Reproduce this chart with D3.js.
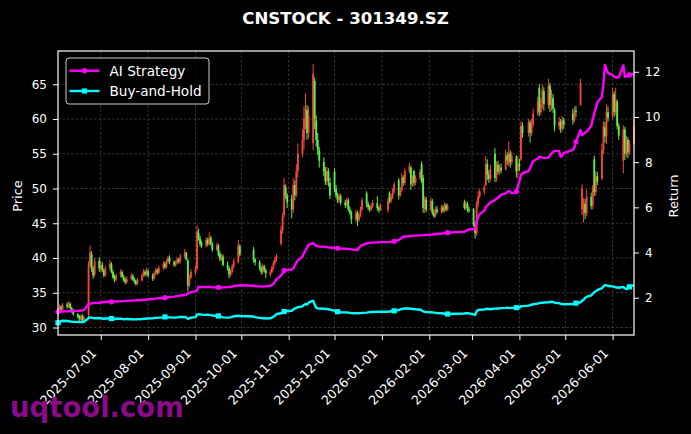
<!DOCTYPE html>
<html>
<head>
<meta charset="utf-8">
<script src="https://cdn.jsdelivr.net/npm/d3@7/dist/d3.min.js"></script>
<style>
    html, body { margin: 0; padding: 0; background: #000; }
    svg { display: block; font-family: "DejaVu Sans", sans-serif; }
</style>
</head>
<body>
<div id="chart"></div>
<script>
// Trading calendar: weekdays from first to last day, minus exchange holidays
var firstDay = "2025-06-03";
var lastDay = "2026-06-15";
var holidays = [
    "2025-10-01", "2025-10-02", "2025-10-03", "2025-10-06", "2025-10-07", "2025-10-08",
    "2026-01-01", "2026-01-02",
    "2026-02-16", "2026-02-17", "2026-02-18", "2026-02-19", "2026-02-20", "2026-02-23",
    "2026-04-06", "2026-05-01", "2026-05-04", "2026-05-05"
];

// Daily prices (one line per month, Jun 2025 .. Jun 2026)
var open = [
    32.0,32.4,33.0,32.6,33.3,33.0,33.4,32.8,32.4,31.9,31.6,31.1,31.7,31.0,31.8,39.0,40.5,38.5,37.6,39.6,
    38.4,39.0,38.2,37.6,38.5,39.1,38.0,37.3,36.9,37.5,38.0,37.3,36.9,36.5,37.0,37.4,36.9,36.7,36.3,36.8,37.5,38.0,37.6,
    38.1,37.5,37.1,37.8,38.3,37.9,38.6,39.2,38.7,39.5,40.0,39.4,39.0,39.3,39.8,39.5,40.2,40.7,39.6,36.1,37.2,
    37.9,38.5,43.6,42.8,42.1,41.8,42.6,42.0,42.9,42.0,41.2,41.8,40.6,39.8,40.2,39.0,38.5,37.6,38.0,38.8,39.4,41.7,
    41.2,39.8,39.4,38.6,38.0,38.8,38.2,37.6,38.0,38.6,39.3,39.8,42.0,44.0,46.2,50.2,49.0,
    48.5,47.0,50.5,49.2,52.5,55.0,57.0,60.0,61.3,58.0,56.5,65.5,59.8,57.0,55.5,53.8,52.5,51.0,52.5,50.8,
    52.4,50.0,49.0,48.3,48.9,48.0,47.6,48.3,47.0,46.5,45.6,46.5,45.5,46.2,47.0,49.3,47.8,47.3,47.0,47.5,47.9,47.2,46.9,
    46.9,49.3,48.2,48.8,49.6,51.2,49.0,49.8,51.6,50.8,52.5,53.0,50.6,52.5,50.8,51.5,53.5,51.5,47.0,48.4,
    47.0,48.2,46.5,46.0,47.0,46.6,47.3,46.8,47.6,47.0,48.0,47.2,47.8,47.0,
    47.0,44.8,43.5,47.8,48.9,49.6,50.5,53.5,52.0,51.4,55.0,51.5,53.4,52.4,53.0,52.8,54.8,53.6,55.0,53.8,54.5,52.6,
    53.6,54.2,59.0,58.0,59.5,58.0,59.2,60.8,64.5,61.0,62.2,64.0,62.0,64.8,62.0,63.0,61.3,59.0,59.6,58.6,59.8,
    60.8,59.8,61.2,62.0,47.0,46.2,47.8,46.4,48.8,47.5,54.2,49.5,51.8,51.4,55.5,58.8,57.5,61.0,
    60.5,63.6,61.0,62.5,59.0,54.0,58.5,55.0,57.0,55.2,56.5
];
var high = [
    32.8,33.3,33.2,33.5,33.6,33.8,33.6,33.0,32.6,32.1,31.8,31.9,31.9,31.7,39.5,41.8,41.0,38.9,40.0,40.1,
    39.6,39.4,38.5,38.9,39.7,39.4,38.3,37.6,37.8,38.4,38.2,37.6,37.2,37.4,37.8,37.7,37.2,36.9,37.1,37.8,38.4,38.3,38.6,
    38.4,37.8,38.1,38.6,38.5,38.9,39.5,39.5,39.8,40.3,40.4,39.7,39.6,40.1,40.0,40.6,41.3,40.9,39.9,37.6,38.4,
    38.9,44.7,44.2,43.2,42.5,43.0,42.9,43.7,43.2,42.3,42.2,42.0,41.0,40.6,40.5,39.5,38.8,38.4,39.1,39.9,42.6,42.0,
    41.6,40.0,39.7,38.9,39.2,39.0,38.5,38.3,38.9,39.6,40.2,40.6,44.6,46.5,51.5,50.6,49.3,
    49.1,51.5,51.2,53.5,56.5,58.5,61.9,63.7,62.0,61.8,67.9,66.0,60.5,58.0,56.0,54.5,53.1,53.1,52.9,51.5,
    52.9,50.5,49.4,49.3,49.2,48.4,48.7,48.6,47.4,46.8,47.0,46.8,46.6,47.4,48.7,49.6,48.1,47.6,47.9,48.4,48.9,47.5,47.9,
    48.7,49.6,49.2,50.0,51.0,51.5,50.2,52.2,51.9,52.9,53.7,53.3,51.9,52.7,51.9,52.8,53.9,52.0,48.9,48.8,
    48.7,48.5,47.0,47.4,47.5,47.7,47.6,48.0,47.9,47.8,48.4,48.2,48.1,47.4,
    47.2,45.2,48.2,49.6,50.0,50.5,54.7,54.2,52.6,53.4,55.8,53.9,54.0,53.5,53.6,55.6,55.2,56.8,55.5,55.3,54.8,54.7,
    54.3,59.7,59.5,60.0,59.8,60.0,61.5,63.2,65.0,63.0,65.0,64.6,65.8,65.2,64.2,63.6,61.6,60.3,60.0,60.4,60.2,
    61.5,61.8,61.9,65.8,50.6,48.6,48.5,49.9,49.4,50.5,54.7,52.5,52.4,56.5,59.7,59.6,62.1,61.8,
    64.5,64.0,64.5,62.8,59.4,59.1,58.9,57.6,57.4,57.0,59.9
];
var low = [
    31.8,32.2,32.3,32.4,32.7,32.8,32.6,32.1,31.7,31.3,30.9,30.9,30.6,30.7,31.5,38.6,38.0,37.0,37.3,38.0,
    38.0,38.0,37.2,37.3,38.2,37.8,37.0,36.5,36.7,37.2,37.1,36.6,36.2,36.3,36.8,36.7,36.3,36.0,36.1,36.6,37.3,37.3,37.4,
    37.2,36.7,36.9,37.5,37.6,37.7,38.3,38.4,38.5,39.2,39.1,38.7,38.8,39.1,39.2,39.2,39.9,39.6,35.2,35.8,37.0,
    37.6,38.2,42.5,41.6,41.4,41.5,41.7,41.8,41.8,40.9,41.0,40.2,39.5,39.6,38.8,38.2,37.1,37.3,37.8,38.5,39.2,40.2,
    39.3,38.9,38.2,37.6,37.7,37.9,37.1,37.3,37.8,38.3,39.0,39.5,41.8,43.5,45.8,48.5,47.2,
    45.7,46.5,48.3,48.8,51.6,54.5,55.6,58.5,57.0,57.2,55.5,58.5,56.0,54.8,53.0,51.8,50.5,50.5,50.3,48.5,
    49.5,48.6,47.9,47.9,47.6,47.2,47.3,46.7,46.2,44.9,45.2,44.6,45.2,45.9,46.8,47.3,46.9,46.6,46.8,47.2,46.8,46.5,46.7,
    46.5,47.9,47.9,48.5,49.3,48.4,48.8,49.5,50.4,50.5,52.2,49.8,50.3,50.3,50.5,51.2,50.8,46.5,46.5,46.6,
    46.8,46.2,45.8,45.8,46.3,46.4,46.5,46.6,46.7,46.8,46.9,46.9,46.6,46.5,
    44.5,42.8,43.2,47.3,48.6,49.1,50.3,51.2,50.8,51.0,50.9,51.0,52.0,52.0,52.2,52.6,53.4,53.2,53.0,53.4,51.6,51.4,
    52.5,54.0,57.3,57.5,56.6,57.6,58.8,60.5,60.4,60.6,61.5,61.2,61.5,61.0,61.2,60.9,58.2,58.4,58.0,58.2,58.6,
    59.2,59.5,60.3,61.9,46.2,45.1,45.6,46.0,47.0,47.0,48.9,49.0,50.5,51.2,55.0,56.6,56.4,59.6,
    60.0,60.3,60.6,58.5,57.0,52.2,54.1,54.5,54.4,54.8,56.3
];
var close = [
    32.4,32.9,32.6,33.2,33.0,33.5,32.8,32.3,31.9,31.5,31.2,31.6,31.0,31.4,39.0,40.8,38.5,37.5,39.5,38.5,
    39.0,38.2,37.5,38.5,39.2,38.0,37.2,36.8,37.5,38.0,37.3,36.8,36.5,37.0,37.4,36.9,36.6,36.3,36.8,37.5,38.0,37.6,38.2,
    37.5,37.0,37.8,38.3,37.9,38.6,39.2,38.7,39.5,40.0,39.4,39.0,39.3,39.8,39.5,40.2,40.8,39.8,36.0,37.2,38.0,
    38.5,43.8,42.8,42.0,41.8,42.6,42.0,42.9,42.0,41.2,41.8,40.5,39.8,40.2,39.0,38.5,37.6,38.0,38.8,39.5,41.8,40.5,
    39.8,39.4,38.6,38.0,38.8,38.2,37.8,38.0,38.6,39.3,39.8,40.3,44.0,46.0,50.5,49.0,48.0,
    47.0,50.5,49.0,52.5,55.0,57.0,60.0,61.5,58.0,60.5,66.5,60.0,57.0,55.5,54.0,52.5,51.0,52.5,51.0,49.0,
    50.0,49.0,48.3,48.9,48.0,47.6,48.3,47.0,46.5,45.6,46.5,45.5,46.2,47.0,48.3,47.8,47.3,47.0,47.5,47.9,47.2,46.9,47.6,
    48.2,48.2,48.8,49.6,50.6,49.0,49.8,51.6,50.8,52.5,53.2,50.6,51.5,50.8,51.5,52.4,51.0,47.2,48.5,47.0,
    48.2,46.5,46.0,47.0,46.6,47.3,46.8,47.6,47.0,47.4,47.2,47.8,47.0,46.8,
    44.8,43.6,47.8,48.9,49.6,50.2,53.5,52.0,51.4,52.8,51.5,53.2,52.4,53.0,52.6,54.8,54.0,55.2,53.8,54.6,52.5,53.6,
    53.2,59.0,58.0,59.5,58.0,59.2,60.8,62.5,61.0,62.2,64.2,62.2,64.8,62.0,63.0,61.5,59.0,59.6,58.6,59.8,59.2,
    59.8,61.2,61.0,65.2,50.0,48.0,46.5,48.8,47.5,50.0,49.5,51.8,51.0,55.5,59.0,57.5,61.0,60.2,
    63.5,61.0,62.8,59.0,57.6,58.5,55.0,57.0,55.2,56.4,59.0
];

// Cumulative return of the two strategies (right axis)
var aiStrategy = [
    1.38,1.38,1.39,1.39,1.40,1.40,1.41,1.41,1.42,1.42,1.43,1.43,1.44,1.45,1.72,1.74,1.75,1.76,1.77,1.78,
    1.79,1.80,1.80,1.81,1.82,1.82,1.83,1.83,1.84,1.84,1.85,1.85,1.86,1.86,1.87,1.87,1.88,1.89,1.89,1.90,1.91,1.91,1.92,
    1.93,1.94,1.95,1.96,1.97,1.98,1.99,2.00,2.01,2.02,2.03,2.05,2.06,2.07,2.08,2.10,2.12,2.14,2.18,2.22,2.25,
    2.28,2.32,2.49,2.48,2.47,2.47,2.48,2.48,2.47,2.46,2.46,2.46,2.45,2.45,2.46,2.47,2.47,2.48,2.49,2.52,2.54,2.55,
    2.53,2.51,2.50,2.49,2.49,2.50,2.50,2.52,2.56,2.62,2.70,2.82,2.98,3.10,3.20,3.24,3.22,
    3.25,3.30,3.42,3.55,3.65,3.82,3.98,4.10,4.22,4.35,4.42,4.35,4.30,4.28,4.27,4.26,4.25,4.24,4.23,4.22,
    4.21,4.20,4.19,4.19,4.18,4.17,4.16,4.16,4.15,4.14,4.12,4.11,4.22,4.28,4.33,4.40,4.42,4.43,4.44,4.44,4.45,4.45,4.46,
    4.46,4.46,4.47,4.48,4.50,4.55,4.60,4.65,4.70,4.71,4.72,4.73,4.74,4.75,4.75,4.76,4.76,4.77,4.77,4.78,
    4.79,4.80,4.81,4.82,4.83,4.84,4.85,4.86,4.87,4.88,4.92,4.96,5.00,5.02,
    5.03,5.03,5.35,5.58,5.70,5.85,6.00,6.08,6.15,6.22,6.32,6.38,6.42,6.48,6.55,6.62,6.69,6.72,6.70,6.62,6.70,6.95,
    7.15,7.43,7.50,7.60,7.75,7.90,8.05,8.15,8.24,8.22,8.20,8.18,8.20,8.30,8.38,8.45,8.50,8.50,8.24,8.30,8.40,
    8.54,8.65,8.90,9.42,9.20,9.25,9.30,9.35,9.60,9.90,10.16,10.40,10.65,10.89,11.49,12.30,12.10,11.95,
    11.85,11.78,11.75,11.75,11.74,12.28,11.78,11.80,11.82,11.86,11.92
];
var buyHold = [
    0.89,0.92,0.96,0.98,0.97,0.96,0.95,0.94,0.93,0.93,0.92,0.92,0.93,0.93,1.10,1.13,1.12,1.10,1.09,1.10,
    1.09,1.08,1.07,1.08,1.09,1.08,1.07,1.06,1.07,1.07,1.06,1.05,1.05,1.06,1.05,1.04,1.04,1.04,1.05,1.06,1.07,1.07,1.08,
    1.08,1.09,1.10,1.11,1.11,1.12,1.13,1.15,1.14,1.13,1.13,1.12,1.12,1.13,1.14,1.15,1.15,1.12,1.07,1.09,1.12,
    1.14,1.25,1.27,1.26,1.25,1.24,1.25,1.24,1.23,1.21,1.20,1.19,1.17,1.15,1.13,1.12,1.12,1.13,1.15,1.18,1.20,1.19,
    1.17,1.14,1.11,1.10,1.09,1.09,1.08,1.09,1.12,1.16,1.20,1.28,1.31,1.34,1.39,1.42,1.41,
    1.42,1.48,1.52,1.55,1.58,1.62,1.68,1.72,1.70,1.78,1.87,1.70,1.56,1.53,1.52,1.51,1.50,1.50,1.49,1.47,
    1.43,1.40,1.38,1.37,1.36,1.35,1.35,1.34,1.33,1.32,1.31,1.32,1.31,1.32,1.33,1.34,1.35,1.36,1.37,1.37,1.38,1.38,1.38,
    1.38,1.39,1.40,1.41,1.42,1.45,1.48,1.50,1.52,1.53,1.52,1.51,1.50,1.50,1.49,1.47,1.44,1.40,1.38,1.37,
    1.36,1.35,1.34,1.33,1.32,1.31,1.30,1.29,1.28,1.28,1.30,1.31,1.32,1.31,
    1.26,1.23,1.40,1.46,1.47,1.48,1.50,1.51,1.50,1.49,1.52,1.53,1.52,1.53,1.54,1.55,1.56,1.55,1.54,1.55,1.56,1.58,
    1.57,1.62,1.63,1.65,1.67,1.69,1.71,1.74,1.76,1.78,1.77,1.79,1.80,1.81,1.82,1.81,1.78,1.76,1.73,1.72,1.71,
    1.72,1.74,1.76,1.80,1.86,1.92,1.98,2.04,2.10,2.18,2.24,2.28,2.34,2.42,2.50,2.56,2.55,2.52,
    2.50,2.48,2.46,2.45,2.44,2.48,2.42,2.38,2.42,2.48,2.56
];

// Axis ticks
var priceTicks = [30, 35, 40, 45, 50, 55, 60, 65];
var returnTicks = [2, 4, 6, 8, 10, 12];
var dateTicks = ["2025-07-01", "2025-08-01", "2025-09-01", "2025-10-01", "2025-11-01", "2025-12-01",
                 "2026-01-01", "2026-02-01", "2026-03-01", "2026-04-01", "2026-05-01", "2026-06-01"];

var seriesNames = ["AI Strategy", "Buy-and-Hold"];
var seriesColors = ["#ff00ff", "#00ffff"];

function init() {
    var w = 691, h = 434;
    var left = 58, right = 634, top = 51, bottom = 335;

    var parse = d3.timeParse("%Y-%m-%d");
    var fmt = d3.timeFormat("%Y-%m-%d");
    var skip = new Set(holidays);

    // trading days
    var dates = d3.timeDay.range(parse(firstDay), d3.timeDay.offset(parse(lastDay), 1))
        .filter(function(d) {
            var wd = d.getDay();
            return wd !== 0 && wd !== 6 && !skip.has(fmt(d));
        });
    var n = Math.min(dates.length, close.length, aiStrategy.length, buyHold.length);

    var candles = d3.range(n).map(function(i) {
        return { date: dates[i], o: open[i], h: high[i], l: low[i], c: close[i] };
    });

    var x = d3.scaleTime()
        .domain([parse(firstDay), parse(lastDay)])
        .range([left, right]);

    var yPrice = d3.scaleLinear().domain([28.92, 69.79]).range([bottom, top]);
    var yRet = d3.scaleLinear().domain([0.35, 12.92]).range([bottom, top]);

    var svg = d3.select("#chart").append("svg")
        .attr("width", w)
        .attr("height", h)
        .style("background", "#000");

    // grid
    var grid = svg.append("g").attr("stroke", "#5a5a5a").attr("stroke-width", 0.6)
        .attr("stroke-dasharray", "2.5,2");
    grid.selectAll(".gx").data(dateTicks).enter().append("line")
        .attr("x1", function(d) { return x(parse(d)); })
        .attr("x2", function(d) { return x(parse(d)); })
        .attr("y1", top).attr("y2", bottom);
    grid.selectAll(".gy").data(priceTicks).enter().append("line")
        .attr("x1", left).attr("x2", right)
        .attr("y1", function(d) { return yPrice(d); })
        .attr("y2", function(d) { return yPrice(d); });

    // candlesticks
    var up = "#f5473a", down = "#5cf04a";
    var cg = svg.append("g");
    cg.selectAll(".wick").data(candles).enter().append("line")
        .attr("x1", function(d) { return x(d.date); })
        .attr("x2", function(d) { return x(d.date); })
        .attr("y1", function(d) { return yPrice(d.h); })
        .attr("y2", function(d) { return yPrice(d.l); })
        .attr("stroke", function(d) { return d.c >= d.o ? up : down; })
        .attr("stroke-width", 1);
    cg.selectAll(".body").data(candles).enter().append("rect")
        .attr("x", function(d) { return x(d.date) - 0.9; })
        .attr("width", 1.8)
        .attr("y", function(d) { return yPrice(Math.max(d.o, d.c)); })
        .attr("height", function(d) {
            return Math.max(0.8, yPrice(Math.min(d.o, d.c)) - yPrice(Math.max(d.o, d.c)));
        })
        .attr("fill", function(d) { return d.c >= d.o ? up : down; });

    // strategy lines
    var lineData = [aiStrategy, buyHold];
    var line = d3.line()
        .x(function(d, i) { return x(dates[i]); })
        .y(function(d) { return yRet(d); });

    lineData.forEach(function(vals, k) {
        var v = vals.slice(0, n);
        svg.append("path")
            .datum(v)
            .attr("d", line)
            .attr("fill", "none")
            .attr("stroke", seriesColors[k])
            .attr("stroke-width", 2.4)
            .attr("stroke-linejoin", "round");
        var marks = d3.range(0, n, 25);
        if (k === 0) {
            svg.selectAll(".m0").data(marks).enter().append("circle")
                .attr("cx", function(i) { return x(dates[i]); })
                .attr("cy", function(i) { return yRet(v[i]); })
                .attr("r", 2.6)
                .attr("fill", seriesColors[k]);
        } else {
            svg.selectAll(".m1").data(marks).enter().append("rect")
                .attr("x", function(i) { return x(dates[i]) - 2.6; })
                .attr("y", function(i) { return yRet(v[i]) - 2.6; })
                .attr("width", 5.2).attr("height", 5.2)
                .attr("fill", seriesColors[k]);
        }
    });

    // frame
    svg.append("rect")
        .attr("x", left).attr("y", top)
        .attr("width", right - left).attr("height", bottom - top)
        .attr("fill", "none").attr("stroke", "#fff").attr("stroke-width", 1.2);

    // axes
    function styleAxis(g) {
        g.select(".domain").remove();
        g.selectAll(".tick line").attr("stroke", "#fff").attr("stroke-width", 1);
        g.selectAll(".tick text").attr("fill", "#fff").style("font-size", "12px")
            .style("font-family", "DejaVu Sans, sans-serif");
    }

    svg.append("g")
        .attr("transform", "translate(" + left + ",0)")
        .call(d3.axisLeft(yPrice).tickValues(priceTicks).tickSize(5).tickPadding(6))
        .call(styleAxis);

    svg.append("g")
        .attr("transform", "translate(" + right + ",0)")
        .call(d3.axisRight(yRet).tickValues(returnTicks).tickSize(5).tickPadding(6))
        .call(styleAxis);

    var xg = svg.append("g")
        .attr("transform", "translate(0," + bottom + ")")
        .call(d3.axisBottom(x).tickValues(dateTicks.map(parse)).tickSize(5).tickFormat(fmt))
        .call(styleAxis);
    xg.selectAll(".tick text")
        .style("font-size", "12.6px")
        .attr("text-anchor", "end")
        .attr("x", -4)
        .attr("y", 19)
        .attr("dy", null)
        .attr("transform", "rotate(-45,-4,19)");

    // axis labels
    svg.append("text")
        .attr("transform", "translate(22,196) rotate(-90)")
        .attr("text-anchor", "middle")
        .attr("fill", "#fff").style("font-size", "13px")
        .text("Price");
    svg.append("text")
        .attr("transform", "translate(678,196) rotate(-90)")
        .attr("text-anchor", "middle")
        .attr("fill", "#fff").style("font-size", "13px")
        .text("Return");

    // title
    svg.append("text")
        .attr("x", 345.5).attr("y", 24)
        .attr("text-anchor", "middle")
        .attr("fill", "#fff")
        .style("font-size", "16.6px").style("font-weight", "bold")
        .text("CNSTOCK - 301349.SZ");

    // legend
    var lg = svg.append("g").attr("transform", "translate(66,58)");
    lg.append("rect")
        .attr("width", 143).attr("height", 46).attr("rx", 3)
        .attr("fill", "#000").attr("fill-opacity", 0.8)
        .attr("stroke", "#cccccc").attr("stroke-width", 1);
    var items = lg.selectAll(".item").data(seriesNames).enter().append("g")
        .attr("transform", function(d, i) { return "translate(0," + (12.7 + i * 20.3) + ")"; });
    items.append("line")
        .attr("x1", 3.5).attr("x2", 33.5)
        .attr("stroke", function(d, i) { return seriesColors[i]; })
        .attr("stroke-width", 2.4);
    items.each(function(d, i) {
        var g = d3.select(this);
        if (i === 0) {
            g.append("circle").attr("cx", 18.5).attr("r", 2.6).attr("fill", seriesColors[i]);
        } else {
            g.append("rect").attr("x", 15.9).attr("y", -2.6).attr("width", 5.2).attr("height", 5.2)
                .attr("fill", seriesColors[i]);
        }
    });
    items.append("text")
        .attr("x", 43.5).attr("dy", "0.36em")
        .attr("fill", "#fff").style("font-size", "13.6px")
        .text(function(d) { return d; });

    // watermark
    svg.append("text")
        .attr("x", 10).attr("y", 417)
        .attr("fill", "#8a0a8a")
        .style("font-size", "27.5px").style("font-weight", "bold")
        .text("uqtool.com");
}

window.onload = init;
</script>
</body>
</html>
